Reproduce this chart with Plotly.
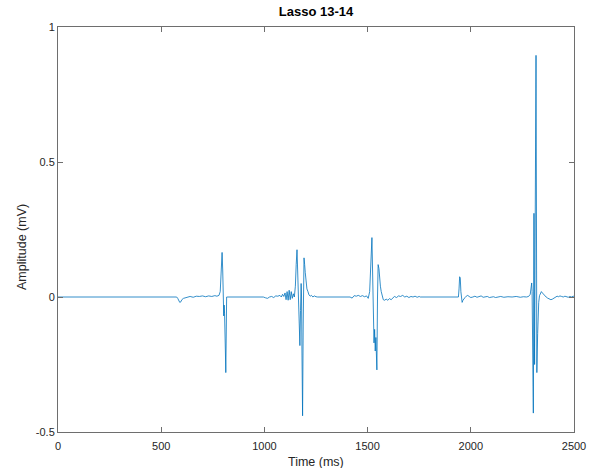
import plotly.graph_objects as go

# Time (ms) and amplitude (mV) knots
time_ms = [
    0, 575, 580, 585, 590, 595, 600, 608, 615, 625, 640, 655, 670, 685, 700, 715, 730, 745, 760, 770, 780,
    786, 790, 795, 798, 801, 803, 805, 807, 809, 811, 813, 815, 817, 823,
    995, 1005, 1015, 1025, 1035, 1045, 1055, 1065, 1075, 1082, 1088, 1094, 1100, 1105, 1110, 1115, 1120,
    1125, 1130, 1135, 1140, 1145, 1150, 1154, 1158, 1161, 1164, 1167, 1172, 1175, 1178, 1180, 1182, 1185,
    1188, 1192, 1195, 1198, 1202, 1206, 1211, 1216, 1222, 1228, 1235, 1242, 1250, 1258,
    1415, 1425, 1435, 1445, 1455, 1465, 1475, 1485, 1495, 1503, 1510, 1515, 1521, 1524, 1527, 1531, 1534,
    1537, 1540, 1545, 1548, 1551, 1555, 1558, 1562, 1566, 1571, 1576, 1582, 1590, 1598, 1606, 1614, 1622,
    1630, 1640, 1650, 1660, 1670, 1680, 1690, 1700, 1710, 1720, 1730, 1740, 1750, 1755,
    1940, 1943, 1946, 1949, 1952, 1955, 1958, 1962, 1967, 1972, 1978, 1985, 1992, 2000, 2010, 2020, 2030,
    2040, 2050, 2060, 2070, 2080, 2090, 2100, 2110, 2120, 2130, 2145, 2160, 2180, 2200, 2220, 2240, 2255,
    2270, 2280, 2288, 2292, 2295, 2297, 2299, 2301, 2303, 2304, 2305, 2306, 2307, 2308, 2309, 2310, 2312,
    2314, 2316, 2318, 2320, 2322, 2324, 2326, 2329, 2333, 2337, 2342, 2347, 2352, 2358, 2365, 2372, 2380,
    2388, 2395, 2402, 2410, 2418, 2425, 2432, 2440, 2448, 2456, 2464, 2472, 2480, 2488, 2496, 2500,
]
amplitude_mv = [
    0, 0, -0.005, -0.015, -0.02, -0.018, -0.01, -0.005, -0.003, 0.0, 0.002, -0.001, 0.003, 0.002, 0.004, 0.001, 0.004, 0.002, 0.005, 0.003, 0.006,
    0.02, 0.08, 0.165, 0.1, 0.0, -0.07, -0.03, -0.06, -0.1, -0.2, -0.28, -0.08, 0.0, 0.0,
    0.0, -0.003, -0.005, 0.0, 0.002, -0.002, 0.004, 0.003, 0.006, 0.0, 0.01, 0.002, 0.015, -0.01, 0.02, -0.012, 0.025,
    -0.01, 0.02, -0.005, 0.012, 0.0, 0.04, 0.12, 0.175, 0.1, 0.0, -0.08, -0.18, -0.05, 0.05, 0.0, -0.2, -0.44,
    -0.1, 0.145, 0.12, 0.09, 0.05, 0.03, 0.02, 0.008, 0.003, 0.006, 0.0, 0.004, 0.001, 0.0,
    0.0, -0.004, 0.005, 0.003, 0.006, 0.002, 0.005, 0.001, 0.004, -0.005, 0.02, 0.12, 0.22, 0.1, -0.05, -0.17, -0.12,
    -0.2, -0.15, -0.27, 0.0, 0.12, 0.105, 0.06, 0.04, 0.02, 0.0, -0.01, -0.012, -0.008, -0.012, -0.006, -0.01, -0.004,
    0.002, -0.002, 0.004, 0.002, 0.006, 0.0, 0.003, -0.002, 0.002, 0.0, 0.003, -0.001, 0.002, 0.0,
    0.0, 0.03, 0.075, 0.07, 0.02, -0.015, -0.02, -0.012, -0.005, -0.002, 0.003, 0.006, 0.002, -0.002, 0.0, 0.003, -0.001,
    0.002, 0.004, -0.001, 0.0, 0.002, -0.002, -0.001, 0.001, -0.002, 0.0, 0.002, -0.001, 0.001, 0.0, 0.002, -0.001, 0.001,
    0.0, 0.002, 0.01, 0.04, 0.052, 0.02, -0.1, -0.3, -0.43, -0.2, 0.05, 0.31, 0.1, -0.1, -0.25, -0.15, 0.2,
    0.6, 0.895, 0.3, -0.28, -0.2, -0.135, -0.06, -0.02, 0.005, 0.015, 0.02, 0.015, 0.01, 0.005, 0.0, -0.004, -0.008,
    -0.01, -0.008, -0.004, 0.0, 0.003, 0.001, 0.004, 0.002, 0.0, 0.003, 0.001, -0.001, 0.002, 0.0, 0.003, 0.002,
]

x_ticks = [0, 500, 1000, 1500, 2000, 2500]
y_ticks = [-0.5, 0, 0.5, 1]
y_tick_text = ["-0.5", "0", "0.5", "1"]

FONT = "Liberation Sans, Arial, Helvetica, sans-serif"
AX = "#6e6e6e"

fig = go.Figure()
fig.add_trace(go.Scatter(
    x=time_ms, y=amplitude_mv, mode="lines",
    line=dict(color="#0072BD", width=0.8),
    hoverinfo="skip", showlegend=False,
))

axis_common = dict(
    showline=True, linecolor=AX, linewidth=1, mirror="ticks",
    ticks="inside", ticklen=5, tickcolor=AX, tickwidth=1,
    showgrid=False, zeroline=False,
    tickfont=dict(family=FONT, size=11, color="#262626"),
)

fig.update_layout(
    width=594, height=468,
    margin=dict(l=58, r=20, t=27, b=36, autoexpand=False),
    paper_bgcolor="white", plot_bgcolor="white",
    title=dict(text="<b>Lasso 13-14</b>", x=0.5, xref="paper", xanchor="center",
               y=1 - 11 / 468, yref="container", yanchor="middle",
               font=dict(family=FONT, size=13, color="black")),
    xaxis=dict(range=[0, 2500], tickvals=x_ticks, ticklabelstandoff=4, **axis_common),
    yaxis=dict(range=[-0.5, 1], tickvals=y_ticks, ticktext=y_tick_text, **axis_common),
    annotations=[
        dict(text="Time (ms)", xref="paper", yref="paper", x=0.5, y=-30 / 405,
             xanchor="center", yanchor="middle", showarrow=False,
             font=dict(family=FONT, size=12.5, color="#262626")),
        dict(text="Amplitude (mV)", xref="paper", yref="paper", x=-36 / 516, y=(432 - 247) / 405,
             xanchor="center", yanchor="middle", textangle=-90, showarrow=False,
             font=dict(family=FONT, size=12.5, color="#262626")),
    ],
)

fig.write_html("out.html")
